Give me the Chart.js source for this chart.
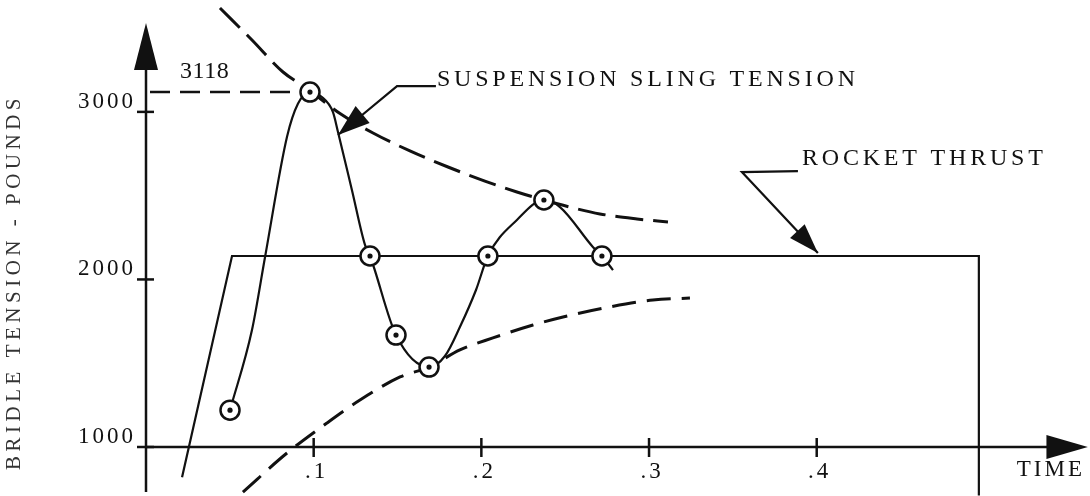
<!DOCTYPE html>
<html><head><meta charset="utf-8">
<script src="https://cdn.jsdelivr.net/npm/chart.js@4.4.1/dist/chart.umd.min.js"></script>
<style>html,body{margin:0;padding:0;background:#fff;}canvas{display:block;}</style>
</head><body>
<canvas id="c" width="1090" height="496"></canvas>
<script>
// ---- data ----
const xTickValues = [0.1, 0.2, 0.3, 0.4];
const xTickLabels = ['.1', '.2', '.3', '.4'];
const yTickValues = [1000, 2000, 3000];
const yTickLabels = ['1000', '2000', '3000'];

// suspension sling tension curve (time, lbs)
const tensionTime = [0.0501, 0.0632, 0.0710, 0.0841, 0.0906, 0.0978, 0.1049, 0.1115, 0.1145, 0.1228, 0.1306, 0.1336, 0.1491, 0.1688, 0.1783, 0.1872, 0.1968, 0.2039, 0.2212, 0.2373, 0.2469, 0.2665, 0.2719, 0.2785];
const tensionLbs  = [1220,   1698,   2134,   2851,   3048,   3118,   3089,   2999,   2880,   2534,   2206,   2140,   1668,   1477,   1543,   1716,   1937,   2140,   2355,   2474,   2432,   2194,   2140,   2056];
// circled readings
const markTime = [0.0501, 0.0978, 0.1336, 0.1491, 0.1688, 0.2039, 0.2373, 0.2719];
const markLbs  = [1220,   3118,   2140,   1668,   1477,   2140,   2474,   2140];
const peakTime = 0.0978, peakLbs = 3118;

// rocket thrust
const thrustTime = [0.0215, 0.0513, 0.4967, 0.4967];
const thrustLbs  = [820,    2140,   2140,   710];

// upper dashed envelope
const upperTime = [0.0441, 0.0632, 0.0817, 0.0960, 0.1157, 0.1354, 0.1574, 0.1801, 0.2021, 0.2212, 0.2373, 0.2528, 0.2707, 0.2928, 0.3113];
const upperLbs  = [3620,   3429,   3238,   3140,   2990,   2874,   2767,   2671,   2587,   2522,   2474,   2432,   2391,   2361,   2343];
// lower dashed envelope
const lowerTime = [0.0578, 0.0841, 0.1079, 0.1276, 0.1515, 0.1688, 0.1872, 0.2069, 0.2308, 0.2487, 0.2767, 0.3023, 0.3244];
const lowerLbs  = [731,    964,    1143,   1280,   1418,   1477,   1579,   1651,   1728,   1776,   1836,   1877,   1889];

const pts = (xs, ys) => xs.map((x, i) => ({x, y: ys[i]}));
const FONT = '"Liberation Serif", "DejaVu Serif", serif';
const INK = '#111';

function arrowHead(ctx, x0, y0, x1, y1, L, W) {
  const dx = x1 - x0, dy = y1 - y0, len = Math.hypot(dx, dy), ux = dx / len, uy = dy / len;
  const bx = x1 - ux * L, by = y1 - uy * L;
  ctx.beginPath();
  ctx.moveTo(x1, y1);
  ctx.lineTo(bx - uy * W, by + ux * W);
  ctx.lineTo(bx + uy * W, by - ux * W);
  ctx.closePath();
  ctx.fill();
}
function zeroPad(s) { s.paddingLeft = 0; s.paddingRight = 0; s.paddingTop = 0; s.paddingBottom = 0; }

const decor = {
  id: 'decor',
  beforeDraw(chart) { chart.ctx.letterSpacing = '3px'; },
  beforeDatasetsDraw(chart) {
    const ctx = chart.ctx, xs = chart.scales.x, ys = chart.scales.y;
    const X = v => xs.getPixelForValue(v), Y = v => ys.getPixelForValue(v);
    ctx.save();
    ctx.strokeStyle = INK; ctx.fillStyle = INK; ctx.lineCap = 'butt';
    // y axis + arrow
    ctx.lineWidth = 2.5;
    ctx.beginPath(); ctx.moveTo(X(0), Y(731)); ctx.lineTo(X(0), Y(3280)); ctx.stroke();
    ctx.beginPath();
    ctx.moveTo(X(0), Y(3530)); ctx.lineTo(X(0) - 12, Y(3250)); ctx.lineTo(X(0) + 12, Y(3250)); ctx.closePath(); ctx.fill();
    // x axis + arrow
    ctx.beginPath(); ctx.moveTo(X(0), Y(1000)); ctx.lineTo(X(0.542), Y(1000)); ctx.stroke();
    ctx.beginPath();
    ctx.moveTo(X(0.5617), Y(1000)); ctx.lineTo(X(0.537), Y(1000) - 12); ctx.lineTo(X(0.537), Y(1000) + 12); ctx.closePath(); ctx.fill();
    // tick marks
    xTickValues.forEach(v => { ctx.beginPath(); ctx.moveTo(X(v), Y(1000) - 9); ctx.lineTo(X(v), Y(1000) + 10); ctx.stroke(); });
    yTickValues.forEach(v => { ctx.beginPath(); ctx.moveTo(X(0) - 9, Y(v)); ctx.lineTo(X(0) + 8, Y(v)); ctx.stroke(); });
    // dashed line to peak value
    ctx.setLineDash([20, 10]); ctx.lineWidth = 2.5;
    ctx.beginPath(); ctx.moveTo(X(0) + 4, Y(peakLbs)); ctx.lineTo(X(peakTime), Y(peakLbs)); ctx.stroke();
    ctx.setLineDash([]);
    // leader: suspension sling tension
    ctx.lineWidth = 2.2;
    ctx.beginPath();
    ctx.moveTo(X(0.1729), Y(3154)); ctx.lineTo(X(0.1497), Y(3154)); ctx.lineTo(X(0.1145), Y(2862)); ctx.stroke();
    arrowHead(ctx, X(0.1497), Y(3154), X(0.1145), Y(2862), 32, 11);
    // leader: rocket thrust
    ctx.beginPath();
    ctx.moveTo(X(0.3888), Y(2647)); ctx.lineTo(X(0.3554), Y(2641)); ctx.lineTo(X(0.4007), Y(2158)); ctx.stroke();
    arrowHead(ctx, X(0.3554), Y(2641), X(0.4007), Y(2158), 30, 10);
    ctx.restore();
  },
  afterDraw(chart) {
    const ctx = chart.ctx, xs = chart.scales.x, ys = chart.scales.y;
    const X = v => xs.getPixelForValue(v), Y = v => ys.getPixelForValue(v);
    ctx.save();
    ctx.fillStyle = INK;
    ctx.font = '24px ' + FONT;
    ctx.textBaseline = 'alphabetic'; ctx.textAlign = 'left';
    ctx.letterSpacing = '3.8px';
    ctx.fillText('SUSPENSION SLING TENSION', X(0.1735), Y(3154));
    ctx.fillText('ROCKET THRUST', X(0.3912), Y(2683));
    ctx.letterSpacing = '0.5px';
    ctx.fillText(String(peakLbs), X(0.0203), Y(3202));
    // y axis title
    ctx.letterSpacing = '4.5px';
    ctx.fillStyle = '#333';
    ctx.font = '21px ' + FONT;
    ctx.translate(14, Y(1985));
    ctx.rotate(-Math.PI / 2);
    ctx.textAlign = 'center'; ctx.textBaseline = 'middle';
    ctx.fillText('BRIDLE TENSION - POUNDS', 0, 0);
    ctx.restore();
    ctx.letterSpacing = '0px';
  }
};

const lineDs = (data, extra) => Object.assign({
  data, showLine: true, pointRadius: 0, borderColor: INK, borderWidth: 2, clip: false, tension: 0
}, extra);

new Chart(document.getElementById('c'), {
  type: 'scatter',
  data: {
    datasets: [
      { data: pts(markTime, markLbs), pointRadius: 2.6, pointBackgroundColor: INK, pointBorderWidth: 0, showLine: false, clip: false },
      { data: pts(markTime, markLbs), pointRadius: 9.5, pointBackgroundColor: '#fff', pointBorderColor: INK, pointBorderWidth: 2.5, showLine: false, clip: false },
      lineDs(pts(tensionTime, tensionLbs), { cubicInterpolationMode: 'monotone', borderWidth: 2.2 }),
      lineDs(pts(thrustTime, thrustLbs), { borderWidth: 2.2 }),
      lineDs(pts(upperTime, upperLbs), { cubicInterpolationMode: 'monotone', borderWidth: 3, borderDash: [28, 10] }),
      lineDs(pts(lowerTime, lowerLbs), { cubicInterpolationMode: 'monotone', borderWidth: 3, borderDash: [24, 11] })
    ]
  },
  options: {
    responsive: false, animation: false, devicePixelRatio: 1, events: [],
    layout: { autoPadding: false, padding: { left: 0, right: 5, top: 8, bottom: 0 } },
    plugins: { legend: { display: false }, tooltip: { enabled: false } },
    scales: {
      x: {
        type: 'linear', min: 0, max: 0.56,
        grid: { display: false, drawTicks: false }, border: { display: false },
        afterBuildTicks: s => { s.ticks = xTickValues.map(v => ({ value: v })); },
        afterFit: s => { s.height = 49; zeroPad(s); },
        ticks: {
          autoSkip: false, maxRotation: 0, padding: 11, labelOffset: 3,
          color: INK, font: { family: FONT, size: 23 },
          callback: v => xTickLabels[xTickValues.findIndex(t => Math.abs(t - v) < 1e-9)] ?? ''
        },
        title: { display: true, text: 'TIME', align: 'end', color: INK, font: { family: FONT, size: 23 }, padding: { top: 0, bottom: 12 } }
      },
      y: {
        type: 'linear', min: 1000, max: 3620,
        grid: { display: false, drawTicks: false }, border: { display: false },
        afterBuildTicks: s => { s.ticks = yTickValues.map(v => ({ value: v })); },
        afterFit: s => { s.width = 146; zeroPad(s); },
        ticks: {
          padding: 10, labelOffset: -10, color: INK, font: { family: FONT, size: 23 },
          callback: v => yTickLabels[yTickValues.indexOf(v)] ?? ''
        }
      }
    }
  },
  plugins: [decor]
});
</script></body></html>
